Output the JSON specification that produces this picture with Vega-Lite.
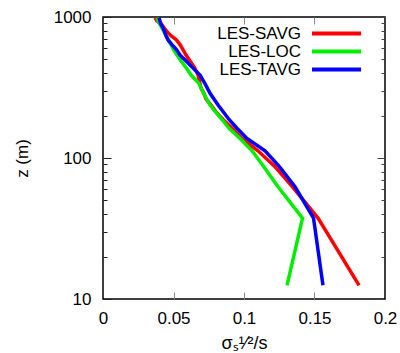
{
  "$schema": "https://vega.github.io/schema/vega-lite/v6.json",
  "width": 282,
  "height": 282,
  "autosize": {"type": "none"},
  "padding": {"left": 103, "top": 17, "right": 15, "bottom": 54},
  "background": "white",
  "config": {
    "view": {"stroke": "#000", "strokeWidth": 1.5},
    "font": "Liberation Sans",
    "axis": {
      "grid": false,
      "domain": false,
      "labelFont": "Liberation Sans",
      "labelFontSize": 17,
      "labelColor": "#000",
      "titleFont": "Liberation Sans",
      "titleFontSize": 17,
      "titleFontWeight": "normal",
      "titleColor": "#000"
    }
  },
  "data": {
    "values": [
      {"series": "LES-SAVG", "z": 12.5, "s": 0.1816},
      {"series": "LES-SAVG", "z": 37.5, "s": 0.1525},
      {"series": "LES-SAVG", "z": 62.5, "s": 0.1344},
      {"series": "LES-SAVG", "z": 87.5, "s": 0.1216},
      {"series": "LES-SAVG", "z": 112.5, "s": 0.1099},
      {"series": "LES-SAVG", "z": 137.5, "s": 0.0986},
      {"series": "LES-SAVG", "z": 162.5, "s": 0.0915},
      {"series": "LES-SAVG", "z": 187.5, "s": 0.0851},
      {"series": "LES-SAVG", "z": 212.5, "s": 0.0801},
      {"series": "LES-SAVG", "z": 237.5, "s": 0.0766},
      {"series": "LES-SAVG", "z": 262.5, "s": 0.0730},
      {"series": "LES-SAVG", "z": 287.5, "s": 0.0716},
      {"series": "LES-SAVG", "z": 312.5, "s": 0.0695},
      {"series": "LES-SAVG", "z": 337.5, "s": 0.0688},
      {"series": "LES-SAVG", "z": 387.5, "s": 0.0674},
      {"series": "LES-SAVG", "z": 437.5, "s": 0.0649},
      {"series": "LES-SAVG", "z": 487.5, "s": 0.0617},
      {"series": "LES-SAVG", "z": 537.5, "s": 0.0589},
      {"series": "LES-SAVG", "z": 587.5, "s": 0.0567},
      {"series": "LES-SAVG", "z": 637.5, "s": 0.0546},
      {"series": "LES-SAVG", "z": 687.5, "s": 0.0521},
      {"series": "LES-SAVG", "z": 737.5, "s": 0.0482},
      {"series": "LES-SAVG", "z": 787.5, "s": 0.0454},
      {"series": "LES-SAVG", "z": 837.5, "s": 0.0433},
      {"series": "LES-SAVG", "z": 887.5, "s": 0.0415},
      {"series": "LES-SAVG", "z": 937.5, "s": 0.0383},
      {"series": "LES-SAVG", "z": 987.5, "s": 0.0369},
      {"series": "LES-LOC", "z": 12.5, "s": 0.1305},
      {"series": "LES-LOC", "z": 37.5, "s": 0.1415},
      {"series": "LES-LOC", "z": 62.5, "s": 0.1241},
      {"series": "LES-LOC", "z": 87.5, "s": 0.1138},
      {"series": "LES-LOC", "z": 112.5, "s": 0.1057},
      {"series": "LES-LOC", "z": 137.5, "s": 0.0972},
      {"series": "LES-LOC", "z": 162.5, "s": 0.0894},
      {"series": "LES-LOC", "z": 187.5, "s": 0.0844},
      {"series": "LES-LOC", "z": 212.5, "s": 0.0798},
      {"series": "LES-LOC", "z": 237.5, "s": 0.0759},
      {"series": "LES-LOC", "z": 287.5, "s": 0.0713},
      {"series": "LES-LOC", "z": 337.5, "s": 0.0681},
      {"series": "LES-LOC", "z": 387.5, "s": 0.0624},
      {"series": "LES-LOC", "z": 437.5, "s": 0.0589},
      {"series": "LES-LOC", "z": 487.5, "s": 0.0553},
      {"series": "LES-LOC", "z": 537.5, "s": 0.0525},
      {"series": "LES-LOC", "z": 587.5, "s": 0.0500},
      {"series": "LES-LOC", "z": 637.5, "s": 0.0482},
      {"series": "LES-LOC", "z": 687.5, "s": 0.0465},
      {"series": "LES-LOC", "z": 737.5, "s": 0.0447},
      {"series": "LES-LOC", "z": 787.5, "s": 0.0433},
      {"series": "LES-LOC", "z": 837.5, "s": 0.0418},
      {"series": "LES-LOC", "z": 887.5, "s": 0.0404},
      {"series": "LES-LOC", "z": 937.5, "s": 0.0390},
      {"series": "LES-LOC", "z": 987.5, "s": 0.0383},
      {"series": "LES-TAVG", "z": 12.5, "s": 0.1560},
      {"series": "LES-TAVG", "z": 37.5, "s": 0.1493},
      {"series": "LES-TAVG", "z": 62.5, "s": 0.1362},
      {"series": "LES-TAVG", "z": 87.5, "s": 0.1248},
      {"series": "LES-TAVG", "z": 112.5, "s": 0.1149},
      {"series": "LES-TAVG", "z": 137.5, "s": 0.1021},
      {"series": "LES-TAVG", "z": 162.5, "s": 0.0950},
      {"series": "LES-TAVG", "z": 187.5, "s": 0.0894},
      {"series": "LES-TAVG", "z": 237.5, "s": 0.0816},
      {"series": "LES-TAVG", "z": 287.5, "s": 0.0759},
      {"series": "LES-TAVG", "z": 337.5, "s": 0.0723},
      {"series": "LES-TAVG", "z": 387.5, "s": 0.0688},
      {"series": "LES-TAVG", "z": 437.5, "s": 0.0635},
      {"series": "LES-TAVG", "z": 487.5, "s": 0.0589},
      {"series": "LES-TAVG", "z": 537.5, "s": 0.0546},
      {"series": "LES-TAVG", "z": 587.5, "s": 0.0521},
      {"series": "LES-TAVG", "z": 637.5, "s": 0.0489},
      {"series": "LES-TAVG", "z": 687.5, "s": 0.0461},
      {"series": "LES-TAVG", "z": 737.5, "s": 0.0447},
      {"series": "LES-TAVG", "z": 787.5, "s": 0.0436},
      {"series": "LES-TAVG", "z": 837.5, "s": 0.0426},
      {"series": "LES-TAVG", "z": 887.5, "s": 0.0411},
      {"series": "LES-TAVG", "z": 937.5, "s": 0.0404},
      {"series": "LES-TAVG", "z": 987.5, "s": 0.0397}
    ]
  },
  "layer": [
    {
      "mark": {"type": "point", "opacity": 0},
      "encoding": {
        "x": {"field": "s", "type": "quantitative", "scale": {"domain": [0, 0.2], "nice": false, "zero": false},
          "axis": {"orient": "bottom", "values": [0.05, 0.1, 0.15], "offset": -7, "tickSize": 7, "labels": false, "title": null, "tickColor": "#888", "tickWidth": 1}},
        "y": {"field": "z", "type": "quantitative", "scale": {"type": "log", "domain": [10, 1000], "nice": false},
          "axis": {"orient": "left", "values": [10, 100, 1000], "offset": -8, "tickSize": 8, "labels": false, "title": null, "tickColor": "#222", "tickWidth": 1}}
      }
    },
    {
      "mark": {"type": "point", "opacity": 0},
      "encoding": {
        "x": {"field": "s", "type": "quantitative", "scale": {"domain": [0, 0.2], "nice": false, "zero": false},
          "axis": {"orient": "top", "values": [0.05, 0.1, 0.15], "offset": -7, "tickSize": 7, "labels": false, "title": null, "tickColor": "#888", "tickWidth": 1}},
        "y": {"field": "z", "type": "quantitative", "scale": {"type": "log", "domain": [10, 1000], "nice": false},
          "axis": {"orient": "left", "values": [20, 30, 40, 50, 60, 70, 80, 90, 200, 300, 400, 500, 600, 700, 800, 900], "offset": -4, "tickSize": 4, "labels": false, "title": null, "tickColor": "#222", "tickWidth": 1}}
      }
    },
    {
      "mark": {"type": "point", "opacity": 0},
      "encoding": {
        "x": {"field": "s", "type": "quantitative", "scale": {"domain": [0, 0.2], "nice": false, "zero": false}, "axis": null},
        "y": {"field": "z", "type": "quantitative", "scale": {"type": "log", "domain": [10, 1000], "nice": false},
          "axis": {"orient": "right", "values": [10, 100, 1000], "offset": -8, "tickSize": 8, "labels": false, "title": null, "tickColor": "#444", "tickWidth": 1}}
      }
    },
    {
      "mark": {"type": "point", "opacity": 0},
      "encoding": {
        "x": {"field": "s", "type": "quantitative", "scale": {"domain": [0, 0.2], "nice": false, "zero": false}, "axis": null},
        "y": {"field": "z", "type": "quantitative", "scale": {"type": "log", "domain": [10, 1000], "nice": false},
          "axis": {"orient": "right", "values": [20, 30, 40, 50, 60, 70, 80, 90, 200, 300, 400, 500, 600, 700, 800, 900], "offset": -4, "tickSize": 4, "labels": false, "title": null, "tickColor": "#444", "tickWidth": 1}}
      }
    },
    {
      "mark": {"type": "line", "strokeWidth": 3.5},
      "encoding": {
        "x": {"field": "s", "type": "quantitative", "scale": {"domain": [0, 0.2], "nice": false, "zero": false},
          "axis": {"orient": "bottom", "values": [0, 0.05, 0.1, 0.15, 0.2], "format": "~g", "ticks": false, "labelPadding": 11, "labelFlush": false, "title": "σₛ¹⁄²/s", "titleFontSize": 18, "titleY": 49, "titleBaseline": "alphabetic"}},
        "y": {"field": "z", "type": "quantitative", "scale": {"type": "log", "domain": [10, 1000], "nice": false},
          "axis": {"orient": "left", "values": [10, 100, 1000], "format": "~g", "ticks": false, "labelPadding": 12, "labelBaseline": "middle", "labelFlush": false, "title": "z (m)", "titleX": -76, "titleY": 141, "titleAngle": 270, "titleBaseline": "alphabetic", "titleAlign": "center"}},
        "color": {"field": "series", "type": "nominal",
          "scale": {"domain": ["LES-SAVG", "LES-LOC", "LES-TAVG"], "range": ["#ff0000", "#00ee00", "#0000ff"]},
          "legend": {"orient": "none", "legendX": 225, "legendY": 8, "title": null, "symbolType": "M-4.9,0H4.9", "symbolSize": 100, "symbolStrokeWidth": 4, "symbolFillColor": "transparent", "labelAlign": "right", "labelOffset": -44, "labelFont": "Liberation Sans", "labelFontSize": 17, "labelColor": "#000", "rowPadding": 0, "padding": 0, "labelLimit": 200}},
        "order": {"field": "z", "type": "quantitative"}
      }
    }
  ],
  "resolve": {"axis": {"x": "independent", "y": "independent"}}
}
